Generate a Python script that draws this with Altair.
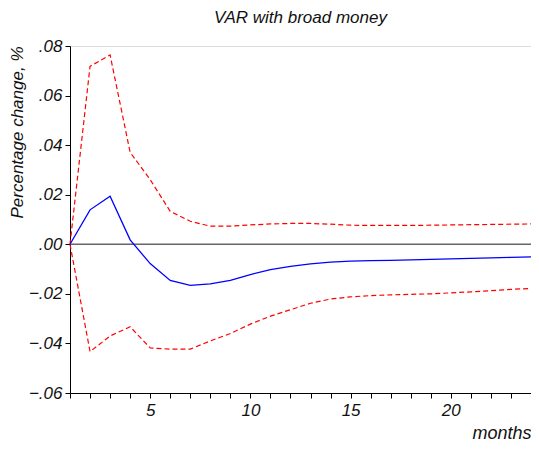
import altair as alt
import pandas as pd

months = list(range(1, 25))
upper = [0.0, 0.0718, 0.0764, 0.0371, 0.0261, 0.0133, 0.0093, 0.0073, 0.0073, 0.0078,
         0.0082, 0.0084, 0.0084, 0.0081, 0.0077, 0.0076, 0.0076, 0.0076, 0.0077, 0.0078,
         0.0079, 0.0080, 0.0081, 0.0082]
response = [0.0, 0.0139, 0.0194, 0.0018, -0.0078, -0.0146, -0.0166, -0.0160, -0.0146, -0.0122,
            -0.0102, -0.0089, -0.0079, -0.0072, -0.0068, -0.0066, -0.0065, -0.0063, -0.0061, -0.0059,
            -0.0057, -0.0055, -0.0053, -0.0051]
lower = [0.0, -0.0433, -0.0370, -0.0333, -0.0418, -0.0423, -0.0423, -0.0390, -0.0360, -0.0322,
         -0.0290, -0.0264, -0.0238, -0.0221, -0.0212, -0.0207, -0.0204, -0.0202, -0.0200, -0.0196,
         -0.0192, -0.0187, -0.0182, -0.0178]
y_ticks = [-0.06, -0.04, -0.02, 0.0, 0.02, 0.04, 0.06, 0.08]

df = pd.DataFrame({"month": months, "upper": upper, "response": response, "lower": lower})
zero = pd.DataFrame({"y": [0.0]})

FONT = "Liberation Sans"

x = alt.X("month:Q",
          scale=alt.Scale(domain=[1, 24], nice=False, zero=False),
          axis=alt.Axis(values=months, labelExpr="datum.value % 5 == 0 ? datum.label : ''",
                        title="months", titleAnchor="end", titleAlign="right", titleX=461,
                        titleFontStyle="italic",
                        titleFontWeight="normal", titleFontSize=18, titlePadding=6,
                        labelFontStyle="italic", labelFontSize=17, labelPadding=4,
                        grid=False, tickSize=5, tickColor="black", domainColor="black",
                        labelColor="#111", titleColor="#111", labelFont=FONT, titleFont=FONT,
                        labelFlush=False))

yscale = alt.Scale(domain=[-0.06, 0.08], nice=False, zero=False)
yaxis = alt.Axis(values=y_ticks,
                 labelExpr="replace(format(datum.value, '.2f'), '0.', '.')",
                 title="Percentage change, %", titleAnchor="end", titleFontStyle="italic",
                 titleFontWeight="normal", titleFontSize=17, titlePadding=2,
                 labelFontStyle="italic", labelFontSize=17, labelPadding=3,
                 grid=False, tickSize=5, tickColor="black", domainColor="black",
                 labelColor="#111", titleColor="#111", labelFont=FONT, titleFont=FONT)

base = alt.Chart(df)

zero_line = alt.Chart(zero).mark_rule(color="#666666", strokeWidth=1.5).encode(
    y=alt.Y("y:Q", scale=yscale, axis=yaxis))

up = base.mark_line(color="#ff0000", strokeDash=[5, 3], strokeWidth=1.2).encode(
    x=x, y=alt.Y("upper:Q", scale=yscale, axis=yaxis))
lo = base.mark_line(color="#ff0000", strokeDash=[5, 3], strokeWidth=1.2).encode(
    x=x, y=alt.Y("lower:Q", scale=yscale, axis=yaxis))
mid = base.mark_line(color="#0000ff", strokeWidth=1.3).encode(
    x=x, y=alt.Y("response:Q", scale=yscale, axis=yaxis))

chart = alt.layer(zero_line, up, lo, mid).properties(
    width=461, height=347,
    title=alt.TitleParams("VAR with broad money", fontStyle="italic", fontWeight="normal",
                          fontSize=17, font=FONT, color="#111", offset=10),
    autosize=alt.AutoSizeParams(type="none"),
    padding={"left": 62, "top": 38, "right": 0, "bottom": 50},
).configure_view(stroke="black", strokeWidth=1.2).configure(background="white")

chart.save("out.html", embed_options={"renderer": "svg", "actions": False})
